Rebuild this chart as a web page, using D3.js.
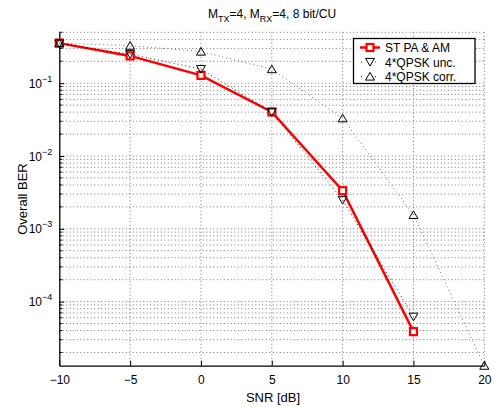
<!DOCTYPE html>
<html><head><meta charset="utf-8">
<script src="https://cdn.jsdelivr.net/npm/d3@7"></script>
<style>body{margin:0;background:#fff}text{font-family:"Liberation Sans",Arial,sans-serif}</style>
</head><body>
<svg id="c" width="494" height="407"></svg>
<script>
const snr = [-10, -5, 0, 5, 10, 15];
const snrCorr = [-10, -5, 0, 5, 10, 15, 20];
const berST = [0.355, 0.237, 0.128, 0.0403, 0.00334, 0.0000387];
const berUnc = [0.35, 0.25, 0.156, 0.040, 0.00249, 0.000062];
const berCorr = [0.355, 0.328, 0.272, 0.156, 0.033, 0.00155, 0.0000132];
const xTicks = [-10, -5, 0, 5, 10, 15, 20];
const yTicks = [1e-4, 1e-3, 1e-2, 1e-1];
const legendLabels = ["ST PA & AM", "4*QPSK unc.", "4*QPSK corr."];

const svg = d3.select("#c");
const L = 59.3, R = 484.3, T = 32.3, B = 365.7;
const x = d3.scaleLinear().domain([-10, 20]).range([L, R]);
const y = d3.scaleLog().domain([Math.pow(10, -4.88), 0.5]).range([B, T]);

// grid
const g = svg.append("g");
const minor = [];
for (let k = -5; k <= -1; k++) for (let m = 1; m <= 9; m++) {
  const v = m * Math.pow(10, k);
  if (v >= y.domain()[0] && v <= 0.5 + 1e-9) minor.push(v);
}
g.selectAll("line.h").data(minor).enter().append("line")
  .attr("x1", L).attr("x2", R).attr("y1", d => y(d)).attr("y2", d => y(d))
  .attr("stroke", "#777").attr("stroke-width", 1).attr("stroke-dasharray", "1,2.5");
g.selectAll("line.v").data(xTicks.slice(1)).enter().append("line")
  .attr("x1", d => x(d)).attr("x2", d => x(d)).attr("y1", T).attr("y2", B)
  .attr("stroke", "#777").attr("stroke-width", 1).attr("stroke-dasharray", "1,2.5");

// axes
const xa = svg.append("g").attr("transform", `translate(0,${B})`)
  .call(d3.axisBottom(x).tickValues(xTicks).tickSizeInner(-5).tickSizeOuter(0)
    .tickFormat(d => d < 0 ? "\u2212" + Math.abs(d) : d).tickPadding(10));
xa.select(".domain").attr("stroke", "#000").attr("stroke-width", 1.3);
xa.selectAll("text").attr("font-size", 12).attr("fill", "#000")
  .attr("font-family", "Liberation Sans, Arial, sans-serif");

const ya = svg.append("g").attr("transform", `translate(${L},0)`)
  .call(d3.axisLeft(y).tickValues(yTicks).tickSizeInner(-5).tickSizeOuter(0).tickFormat(""));
ya.select(".domain").attr("stroke", "#000").attr("stroke-width", 1.3);
ya.selectAll(".tick").each(function(d) {
  const t = d3.select(this).append("text").attr("x", -7).attr("y", 4)
    .attr("text-anchor", "end").attr("fill", "#000").attr("font-size", 12)
    .attr("font-family", "Liberation Sans, Arial, sans-serif");
  t.append("tspan").text("10");
  t.append("tspan").attr("dy", -6).attr("font-size", 9).text("\u2212" + Math.round(-Math.log10(d)));
});
svg.append("g").selectAll("line").data(minor.filter(v => !yTicks.includes(v))).enter().append("line")
  .attr("x1", L).attr("x2", L + 3).attr("y1", d => y(d)).attr("y2", d => y(d))
  .attr("stroke", "#000").attr("stroke-width", 1);

// series
const line = d3.line().x(d => x(d[0])).y(d => y(d[1]));
const st = snr.map((s, i) => [s, berST[i]]);
const unc = snr.map((s, i) => [s, berUnc[i]]);
const corr = snrCorr.map((s, i) => [s, berCorr[i]]);

svg.append("path").datum(st).attr("d", line).attr("fill", "none")
  .attr("stroke", "#ff0000").attr("stroke-width", 2.5);
svg.selectAll("rect.st").data(st).enter().append("rect")
  .attr("x", d => x(d[0]) - 3.5).attr("y", d => y(d[1]) - 3.5).attr("width", 7).attr("height", 7)
  .attr("fill", "#fff").attr("stroke", "#ff0000").attr("stroke-width", 2.2);

const tri = (cx, cy, down) => {
  const s = 4.5;
  return down
    ? `M${cx - s},${cy - s * 0.8}L${cx + s},${cy - s * 0.8}L${cx},${cy + s * 0.9}Z`
    : `M${cx - s},${cy + s * 0.8}L${cx + s},${cy + s * 0.8}L${cx},${cy - s * 0.9}Z`;
};
svg.append("path").datum(unc).attr("d", line).attr("fill", "none")
  .attr("stroke", "#000").attr("stroke-width", 0.8).attr("stroke-dasharray", "1,3");
svg.selectAll("path.unc").data(unc).enter().append("path")
  .attr("d", d => tri(x(d[0]), y(d[1]), true)).attr("fill", "none")
  .attr("stroke", "#000").attr("stroke-width", 1);
svg.append("path").datum(corr).attr("d", line).attr("fill", "none")
  .attr("stroke", "#555").attr("stroke-width", 0.8).attr("stroke-dasharray", "1,3");
svg.selectAll("path.corr").data(corr).enter().append("path")
  .attr("d", d => tri(x(d[0]), y(d[1]), false)).attr("fill", "none")
  .attr("stroke", "#000").attr("stroke-width", 1);

// legend
const lg = svg.append("g");
lg.append("rect").attr("x", 353.5).attr("y", 38.5).attr("width", 121.5).attr("height", 45)
  .attr("fill", "#fff").attr("stroke", "#000").attr("stroke-width", 1.3);
const rows = [47.5, 62, 76.5];
lg.append("line").attr("x1", 360).attr("x2", 380).attr("y1", rows[0]).attr("y2", rows[0])
  .attr("stroke", "#ff0000").attr("stroke-width", 2.5);
lg.append("rect").attr("x", 366.5).attr("y", rows[0] - 3.5).attr("width", 7).attr("height", 7)
  .attr("fill", "#fff").attr("stroke", "#ff0000").attr("stroke-width", 2.2);
[1, 2].forEach(i => {
  lg.append("line").attr("x1", 361).attr("x2", 379).attr("y1", rows[i]).attr("y2", rows[i])
    .attr("stroke", "#000").attr("stroke-width", 0.8).attr("stroke-dasharray", "1,6");
  lg.append("path").attr("d", tri(370, rows[i], i === 1)).attr("fill", "#fff")
    .attr("stroke", "#000").attr("stroke-width", 1);
});
legendLabels.forEach((t, i) => {
  lg.append("text").attr("x", 385).attr("y", rows[i] + 4.5).attr("font-size", 12)
    .attr("fill", "#000").text(t);
});

// title and labels
const tt = svg.append("text").attr("x", 272).attr("y", 18).attr("text-anchor", "middle")
  .attr("font-size", 12).attr("fill", "#000");
tt.append("tspan").text("M");
tt.append("tspan").attr("dy", 3.5).attr("font-size", 9).text("TX");
tt.append("tspan").attr("dy", -3.5).text("=4, M");
tt.append("tspan").attr("dy", 3.5).attr("font-size", 9).text("RX");
tt.append("tspan").attr("dy", -3.5).text("=4, 8 bit/CU");

svg.append("text").attr("x", 273).attr("y", 402).attr("text-anchor", "middle")
  .attr("font-size", 13).attr("fill", "#000").text("SNR [dB]");
svg.append("text").attr("transform", "translate(27,199) rotate(-90)").attr("text-anchor", "middle")
  .attr("font-size", 13).attr("fill", "#000").text("Overall BER");
</script>
</body></html>
